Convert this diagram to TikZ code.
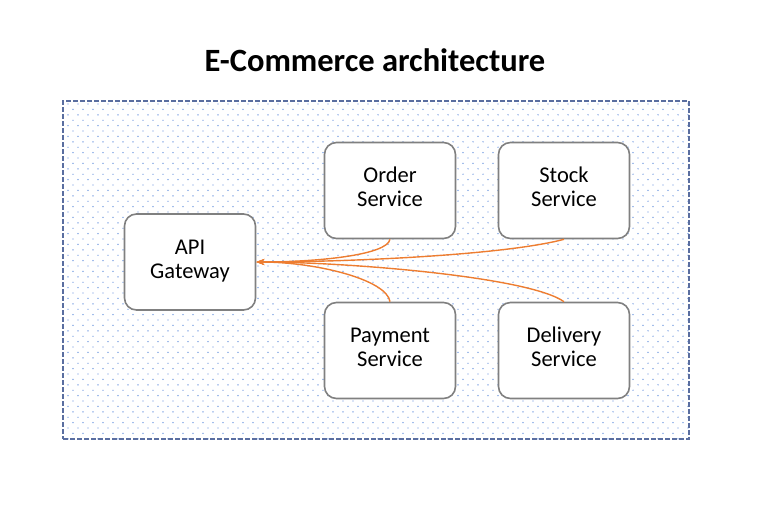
\documentclass[tikz,border=0pt]{standalone}
\usepackage{fontspec}
\setmainfont{Carlito}
\usetikzlibrary{arrows.meta}
\definecolor{boxgray}{RGB}{128,128,128}
\definecolor{dotblue}{RGB}{95,140,220}
\definecolor{frameblue}{RGB}{90,110,160}
\definecolor{arrorange}{RGB}{237,125,49}
\tikzset{
  svc/.style={draw=boxgray, line width=1.6pt, fill=white, rounded corners=12pt,
    minimum width=131pt, minimum height=96pt, align=center, text depth=7pt,
    font=\fontsize{22.5}{24}\selectfont},
  link/.style={draw=arrorange, line width=1.4pt, -{Stealth[length=8pt,width=6pt]}},
}
\begin{document}
\begin{tikzpicture}[x=1pt,y=-1pt]
\useasboundingbox (0,0) rectangle (768,520);
\node (title) at (375,60) {\fontsize{32.5}{38}\selectfont\bfseries E-Commerce architecture};
\begin{scope}
\clip (63,101) rectangle (689,439);
\foreach \r in {0,...,64} {
  \pgfmathsetmacro{\yy}{104+\r*5.4}
  \pgfmathsetmacro{\off}{mod(\r,2)*5}
  \foreach \c in {0,...,63} {
    \fill[dotblue] (68+\off+\c*10,\yy) circle (0.7);
  }
}
\end{scope}
\node[draw=frameblue, line width=1.2pt, dashed, dash pattern=on 5pt off 2pt, minimum width=626pt, minimum height=338pt, inner sep=0pt] (frame) at (376,270) {};
\node[svc, text depth=4.5pt] (api) at (190,262) {API\\Gateway};
\node[svc] (order) at (390,190.5) {Order\\Service};
\node[svc] (stock) at (564,190.5) {Stock\\Service};
\node[svc] (pay) at (390,350.5) {Payment\\Service};
\node[svc] (deliv) at (564,350.5) {Delivery\\Service};
\draw[link] (order.south) .. controls +(-3,16) and +(60,0) .. (api.east);
\draw[link] (stock.south) .. controls +(-60,16) and +(90,0) .. (api.east);
\draw[link] (pay.north) .. controls +(-3,-22) and +(60,0) .. (api.east);
\draw[link] (deliv.north) .. controls +(-35,-25) and +(90,0) .. (api.east);
\end{tikzpicture}
\end{document}
